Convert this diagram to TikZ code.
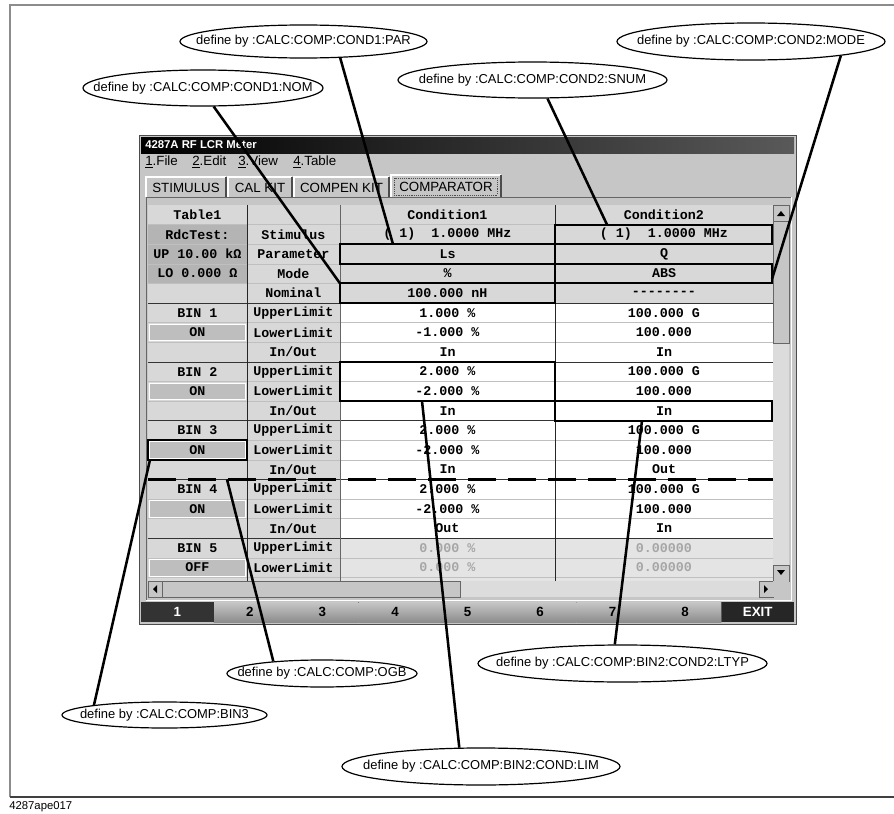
\documentclass[tikz,border=0pt]{standalone}
\usepackage{fontspec}
\setmainfont{Liberation Sans}
\setmonofont{Liberation Mono}
\usetikzlibrary{shapes.geometric}

\definecolor{wingray}{HTML}{C6C6C6}
\definecolor{cellgray}{HTML}{D8D8D8}
\definecolor{darkcell}{HTML}{B4B4B4}
\definecolor{oncell}{HTML}{BEBEBE}
\definecolor{offgray}{HTML}{E4E4E4}
\definecolor{trackgray}{HTML}{DCDCDC}

\tikzset{
  cell/.style={font=\ttfamily\bfseries\fontsize{10}{10}\selectfont, inner sep=0pt},
  dimcell/.style={cell, text=black!35},
  note/.style={ellipse, draw, line width=0.9pt, inner sep=0pt},
  notetext/.style={font=\fontsize{9.7}{11}\selectfont, inner sep=0pt},
  lead/.style={line width=1.9pt},
  hibox/.style={line width=1.6pt},
  tab/.style={font=\fontsize{10}{10}\selectfont, inner sep=0pt},
  fkey/.style={font=\bfseries\fontsize{10}{10}\selectfont, inner sep=0pt},
}

\begin{document}
\begin{tikzpicture}[x=0.75pt, y=-0.75pt]
  \def\px{0.75pt}
  \def\rh{19.6}   % row height
  \def\rt{205}    % top of table
  \useasboundingbox (0,0) rectangle (894,814);
  %
  % page frame
  \draw[black!45, line width=0.8pt] (894,5) -- (10,5) -- (10,797);
  \draw[black!75, line width=1pt] (10,797) -- (894,797);
  \node[anchor=west, inner sep=0pt, font=\fontsize{8.5}{9}\selectfont] (figno) at (9,807) {4287ape017};
  %
  % window, title and menu
  \filldraw[fill=wingray, draw=black!70] (139,135) rectangle (796,624);
  \shade[left color=black, right color=black!65] (141,137) rectangle (794,153);
  \node[anchor=west, text=white, font=\bfseries\fontsize{8.5}{9}\selectfont, inner sep=0pt] (title) at (145,145) {4287A RF LCR Meter};
  \foreach \x/\m [count=\i] in {145/{\underline{1}.File}, 192/{\underline{2}.Edit}, 238/{\underline{3}.View}, 293/{\underline{4}.Table}}
    \node[tab, anchor=west] (menu\i) at (\x,162) {\m};
  %
  % tabs
  \foreach \xa/\xb/\t [count=\i] in {145/227/STIMULUS, 227/293/CAL KIT, 293/390/COMPEN KIT} {
    \draw[white, line width=1pt] (\xa+1,197) -- (\xa+1,177) -- (\xb-1,177);
    \draw[black!70, line width=1pt] (\xb-1,177) -- (\xb-1,197);
    \node[tab] (tab\i) at ({(\xa+\xb)/2},187.5) {\t};
  }
  \draw[white, line width=1pt] (391,197) -- (391,175) -- (501,175);
  \draw[black!70, line width=1pt] (501,175) -- (501,197);
  \draw[black!70, densely dotted] (394,178) rectangle (497,195);
  \node[tab] (tab4) at (446,186.5) {COMPARATOR};
  %
  % table panel
  \draw[black!60] (146,600) -- (146,197) -- (791,197);
  \draw[white] (791,197) -- (791,600) -- (146,600);
  %
  % table
  \begin{scope}
    \clip (148,\rt) rectangle (773,581);
    \fill[white] (148,\rt) rectangle (773,581);
    \fill[cellgray] (148,\rt) rectangle (340,581);          % label columns
    \fill[cellgray] (340,\rt) rectangle (773,{\rt+5*\rh});  % setup rows
    \fill[offgray] (340,{\rt+17*\rh}) rectangle (773,581);  % BIN 5 off
    \foreach \k in {1,2,3}
      \fill[darkcell] (148,{\rt+\k*\rh}) rectangle (247,{\rt+(\k+1)*\rh});
    \foreach \k in {6,9,12,15,18}
      \filldraw[fill=oncell, draw=white] (149.5,{\rt+\k*\rh+1.5}) rectangle (245.5,{\rt+(\k+1)*\rh-1.5});
    % row lines
    \foreach \k in {1,...,19}
      \draw[black!25] (148,{\rt+\k*\rh}) -- (773,{\rt+\k*\rh});
    \foreach \k in {5,8,11,14,17}
      \draw[black!80] (148,{\rt+\k*\rh}) -- (773,{\rt+\k*\rh});
    % column lines
    \draw[black!85] (247,\rt) -- (247,581);
    \draw[black!60] (340,\rt) -- (340,581);
    \draw[black!85] (555,\rt) -- (555,581);
    % cell texts
    \foreach \k/\ca/\cb/\cc/\cd in {
        0/Table1//Condition1/Condition2,
        1/RdcTest:/Stimulus/{( 1)\ \ 1.0000 MHz}/{( 1)\ \ 1.0000 MHz},
        2/UP 10.00 kΩ/Parameter/Ls/Q,
        3/LO 0.000 Ω/Mode/\%/ABS,
        4//Nominal/100.000 nH/--------,
        5/BIN 1/UpperLimit/1.000 \%/100.000 G,
        6/ON/LowerLimit/-1.000 \%/100.000,
        7//In\slash Out/In/In,
        8/BIN 2/UpperLimit/2.000 \%/100.000 G,
        9/ON/LowerLimit/-2.000 \%/100.000,
        10//In\slash Out/In/In,
        11/BIN 3/UpperLimit/2.000 \%/100.000 G,
        12/ON/LowerLimit/-2.000 \%/100.000,
        13//In\slash Out/In/Out,
        14/BIN 4/UpperLimit/2.000 \%/100.000 G,
        15/ON/LowerLimit/-2.000 \%/100.000,
        16//In\slash Out/Out/In} {
      \node[cell] (lab\k) at (197.5,{\rt+(\k+0.5)*\rh}) {\ca};
      \node[cell] (par\k) at (293.5,{\rt+(\k+0.5)*\rh}) {\cb};
      \node[cell] (one\k) at (447.5,{\rt+(\k+0.5)*\rh}) {\cc};
      \node[cell] (two\k) at (664,{\rt+(\k+0.5)*\rh}) {\cd};
    }
    \node[cell] (lab17) at (197.5,{\rt+17.5*\rh}) {BIN 5};
    \node[cell] (par17) at (293.5,{\rt+17.5*\rh}) {UpperLimit};
    \node[dimcell] (one17) at (447.5,{\rt+17.5*\rh}) {0.000 \%};
    \node[dimcell] (two17) at (664,{\rt+17.5*\rh}) {0.00000};
    \node[cell] (lab18) at (197.5,{\rt+18.5*\rh}) {OFF};
    \node[cell] (par18) at (293.5,{\rt+18.5*\rh}) {LowerLimit};
    \node[dimcell] (one18) at (447.5,{\rt+18.5*\rh}) {0.000 \%};
    \node[dimcell] (two18) at (664,{\rt+18.5*\rh}) {0.00000};
    \node[cell] (par19) at (293.5,{\rt+19.5*\rh}) {In/Out};
  \end{scope}
  %
  % scroll bars
  \fill[trackgray] (773,\rt) rectangle (789,581);
  \filldraw[fill=wingray, draw=black!60] (773,\rt) rectangle (789,221);
  \fill (777,216) -- (785,216) -- (781,211) -- cycle;
  \filldraw[fill=wingray, draw=black!60] (773,221) rectangle (789,343);
  \filldraw[fill=wingray, draw=black!60] (773,565) rectangle (789,581);
  \fill (777,570) -- (785,570) -- (781,575) -- cycle;
  \fill[trackgray] (148,581) rectangle (773,597);
  \filldraw[fill=wingray, draw=black!60] (148,581) rectangle (162,597);
  \fill (153,589) -- (157,585) -- (157,593) -- cycle;
  \filldraw[fill=wingray, draw=black!60] (162,581) rectangle (460,597);
  \filldraw[fill=wingray, draw=black!60] (759,581) rectangle (773,597);
  \fill (768,589) -- (764,585) -- (764,593) -- cycle;
  \fill[wingray] (773,581) rectangle (789,597);
  %
  % function keys
  \foreach \i in {2,...,8} {
    \shade[top color=black!22, bottom color=black!45] ({141+(\i-1)*72.56},602) rectangle ({141+\i*72.56},622);
    \draw[black!65] ({141+\i*72.56},602) -- ({141+\i*72.56},622);
    \node[fkey] (key\i) at ({141+(\i-0.5)*72.56},612) {\i};
  }
  \fill[black!80] (141,602) rectangle (213.56,622);
  \node[fkey, text=white] (key1) at (177.3,612) {1};
  \fill[black!85] (721.5,602) rectangle (794,622);
  \node[fkey, text=white] (keyexit) at (757.7,612) {EXIT};
  %
  % marked cells
  \draw[hibox] (340,{\rt+2*\rh}) rectangle (555,{\rt+3*\rh});
  \draw[hibox] (340,{\rt+4*\rh}) rectangle (555,{\rt+5*\rh});
  \draw[hibox] (555,{\rt+1*\rh}) rectangle (772,{\rt+2*\rh});
  \draw[hibox] (555,{\rt+3*\rh}) rectangle (772,{\rt+4*\rh});
  \draw[hibox] (340,{\rt+8*\rh}) rectangle (555,{\rt+10*\rh});
  \draw[hibox] (555,{\rt+10*\rh}) rectangle (772,{\rt+11*\rh});
  \draw[hibox] (148,{\rt+12*\rh}) rectangle (247,{\rt+13*\rh});
  \draw[line width=2pt, dash pattern=on 21pt off 9pt] (148,{\rt+14*\rh}) -- (773,{\rt+14*\rh});
  %
  % callouts
  \node[note, minimum width=247*\px, minimum height=33*\px] (cPar) at (303.5,41.5) {};
  \node[notetext] (tPar) at (cPar) {define by :CALC:COMP:COND1:PAR};
  \node[note, minimum width=240*\px, minimum height=36*\px] (cNom) at (203,88) {};
  \node[notetext] (tNom) at (cNom) {define by :CALC:COMP:COND1:NOM};
  \node[note, minimum width=269*\px, minimum height=36*\px] (cSnum) at (532.5,80) {};
  \node[notetext] (tSnum) at (cSnum) {define by :CALC:COMP:COND2:SNUM};
  \node[note, minimum width=268*\px, minimum height=37*\px] (cMode) at (751,41.5) {};
  \node[notetext] (tMode) at (cMode) {define by :CALC:COMP:COND2:MODE};
  \node[note, minimum width=190*\px, minimum height=27*\px] (cOgb) at (322,673.5) {};
  \node[notetext] (tOgb) at (cOgb) {define by :CALC:COMP:OGB};
  \node[note, minimum width=205*\px, minimum height=26*\px] (cBin) at (164.5,715) {};
  \node[notetext] (tBin) at (cBin) {define by :CALC:COMP:BIN3};
  \node[note, minimum width=278*\px, minimum height=37*\px] (cLim) at (481,766.5) {};
  \node[notetext] (tLim) at (cLim) {define by :CALC:COMP:BIN2:COND:LIM};
  \node[note, minimum width=289*\px, minimum height=37*\px] (cLtyp) at (622.5,663.5) {};
  \node[notetext] (tLtyp) at (cLtyp) {define by :CALC:COMP:BIN2:COND2:LTYP};
  %
  \coordinate (parEnd) at (393,{\rt+2*\rh});
  \coordinate (nomEnd) at (340,{\rt+4*\rh});
  \coordinate (snumEnd) at (607,{\rt+\rh});
  \coordinate (modeEnd) at (772,279);
  \coordinate (ogbEnd) at (227,{\rt+14*\rh});
  \coordinate (binEnd) at (150,{\rt+13*\rh});
  \coordinate (limEnd) at (422,{\rt+10*\rh});
  \coordinate (ltypEnd) at (642,{\rt+11*\rh});
  %
  \draw[lead] (cPar.-24) -- (parEnd);
  \draw[lead] (cNom.-60) -- (nomEnd);
  \draw[lead] (cSnum.-51) -- (snumEnd);
  \draw[lead] (cMode.-9) -- (modeEnd);
  \draw[lead] (cOgb.166) -- (ogbEnd);
  \draw[lead] (cBin.172) -- (binEnd);
  \draw[lead] (cLim.139) -- (limEnd);
  \draw[lead] (cLtyp.112) -- (ltypEnd);
\end{tikzpicture}
\end{document}
